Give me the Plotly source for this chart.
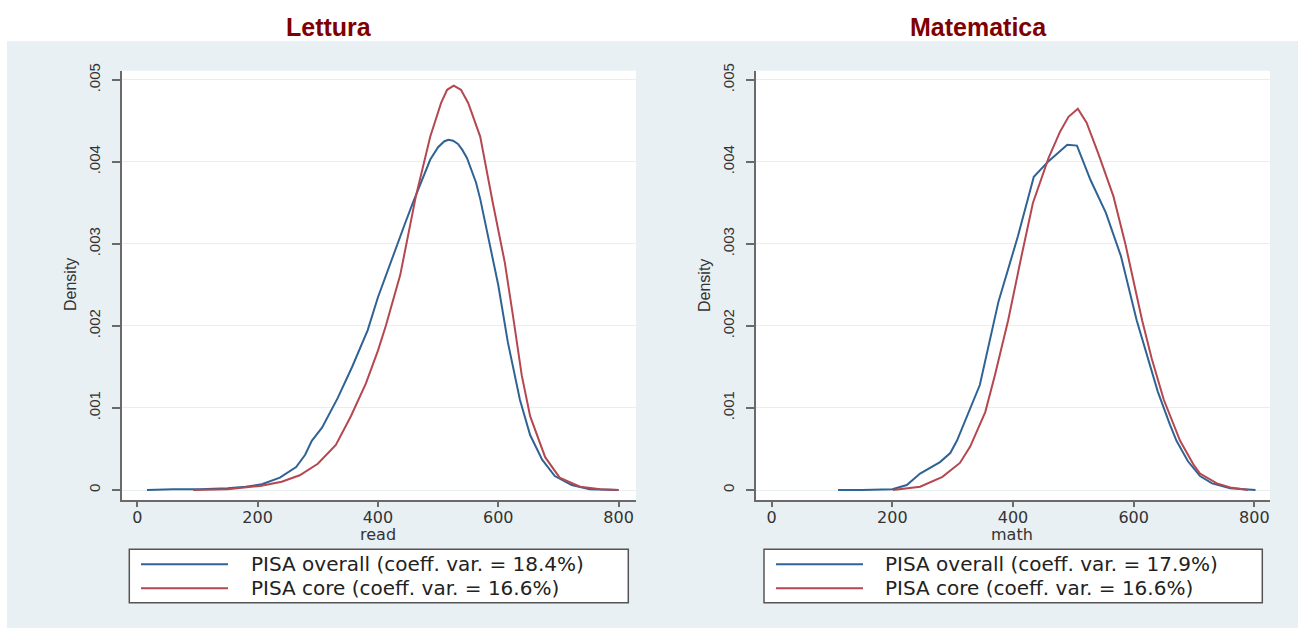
import plotly.graph_objects as go

# ---------------- data ----------------
read_overall_x = [16, 60, 104, 150, 180, 207, 237, 264, 279, 290, 307, 333, 357, 383, 400, 417, 433, 445, 458, 470, 487, 500, 510, 517, 525, 533, 540, 548, 563, 570, 583, 594, 600, 616, 636, 653, 673, 694, 722, 752, 800]
read_overall_y = [0, 0.00001, 0.00001, 0.00002, 0.00004, 0.00007, 0.00015, 0.00028, 0.00043, 0.0006, 0.00076, 0.00112, 0.0015, 0.00195, 0.00235, 0.0027, 0.00302, 0.00325, 0.0035, 0.00372, 0.00403, 0.00418, 0.00425, 0.00427, 0.00426, 0.00422, 0.00415, 0.00405, 0.00375, 0.00355, 0.00308, 0.00272, 0.0025, 0.0018, 0.0011, 0.00067, 0.00037, 0.00017, 0.00006, 0.00001, 0]

read_core_x = [93, 150, 204, 240, 270, 300, 330, 355, 380, 400, 413, 437, 463, 475, 487, 505, 515, 526, 538, 550, 570, 591, 611, 625, 639, 653, 678, 702, 736, 770, 800]
read_core_y = [0, 0.00001, 0.00005, 0.0001, 0.00018, 0.00032, 0.00055, 0.0009, 0.0013, 0.0017, 0.002, 0.00262, 0.00358, 0.00394, 0.00431, 0.00472, 0.00488, 0.00493, 0.00488, 0.00472, 0.00431, 0.0035, 0.00277, 0.0021, 0.0014, 0.0009, 0.0004, 0.00015, 0.00004, 0.00001, 0]

math_overall_x = [110, 150, 200, 224, 246, 279, 296, 307, 345, 370, 376, 408, 434.5, 459, 490, 506, 528.5, 554, 579, 605, 620, 640, 660, 671, 690, 710, 730, 760, 802]
math_overall_y = [0, 0, 0.00001, 0.00006, 0.0002, 0.00034, 0.00045, 0.0006, 0.00128, 0.00207, 0.0023, 0.00309, 0.00382, 0.00401, 0.00421, 0.0042, 0.00378, 0.00338, 0.00285, 0.00207, 0.0017, 0.0012, 0.0008, 0.0006, 0.00035, 0.00017, 0.00008, 0.00002, 0]

math_core_x = [201, 246, 283, 312, 329, 354, 370, 392, 414, 433, 459, 478, 492, 507.5, 522, 541, 566.5, 586, 614, 630, 650, 677, 700, 710, 738, 760, 790]
math_core_y = [0, 0.00004, 0.00016, 0.00033, 0.00053, 0.00095, 0.0014, 0.00207, 0.00285, 0.0035, 0.00405, 0.00437, 0.00455, 0.00465, 0.00448, 0.00411, 0.00358, 0.00301, 0.00207, 0.0016, 0.0011, 0.0006, 0.0003, 0.0002, 0.00008, 0.00003, 0]

titles = ["Lettura", "Matematica"]
x_titles = ["read", "math"]
y_title = "Density"
x_tickvals = [0, 200, 400, 600, 800]
y_tickvals = [0, 0.001, 0.002, 0.003, 0.004, 0.005]
y_ticktext = ["0", ".001", ".002", ".003", ".004", ".005"]
legend_left = ["PISA overall (coeff. var. = 18.4%)", "PISA core (coeff. var. = 16.6%)"]
legend_right = ["PISA overall (coeff. var. = 17.9%)", "PISA core (coeff. var. = 16.6%)"]

# ---------------- styling ----------------
W, H = 1305, 628
BLUE = "#2F6394"
RED = "#B4474F"
PANEL = "#E8F0F3"
AXIS = "#6A6A6A"
GRID = "#E7EFF1"
TITLE_COLOR = "#7F0000"


def px(x):
    return x / W


def py(y):
    return 1 - y / H


fig = go.Figure()
fig.add_trace(go.Scatter(x=read_overall_x, y=read_overall_y, mode="lines",
                         line=dict(color=BLUE, width=2), xaxis="x", yaxis="y", showlegend=False))
fig.add_trace(go.Scatter(x=read_core_x, y=read_core_y, mode="lines",
                         line=dict(color=RED, width=2), xaxis="x", yaxis="y", showlegend=False))
fig.add_trace(go.Scatter(x=math_overall_x, y=math_overall_y, mode="lines",
                         line=dict(color=BLUE, width=2), xaxis="x2", yaxis="y2", showlegend=False))
fig.add_trace(go.Scatter(x=math_core_x, y=math_core_y, mode="lines",
                         line=dict(color=RED, width=2), xaxis="x2", yaxis="y2", showlegend=False))

xfont = dict(family="DejaVu Sans", size=16, color="#333333")
yfont = dict(family="Liberation Sans", size=15, color="#333333")


def xaxis_cfg(l, r, rng, anchor):
    return dict(domain=[px(l), px(r)], range=rng, anchor=anchor, showline=True, linecolor=AXIS,
                linewidth=2, ticks="outside", ticklen=5, tickwidth=2, tickcolor=AXIS,
                tickvals=x_tickvals, tickfont=xfont, ticklabelstandoff=-3, showgrid=False,
                zeroline=False, fixedrange=True, automargin=False)


def yaxis_cfg(anchor):
    return dict(domain=[py(500), py(70.7)], range=[-0.000122, 0.005113], anchor=anchor, showline=True,
                linecolor=AXIS, linewidth=2, ticks="outside", ticklen=8, tickwidth=2, tickcolor=AXIS,
                tickvals=y_tickvals, ticktext=y_ticktext, tickangle=-90, tickfont=yfont,
                ticklabelstandoff=6, showgrid=True, gridcolor=GRID, gridwidth=1, zeroline=False,
                fixedrange=True, automargin=False)


fig.update_layout(
    width=W, height=H, margin=dict(l=0, r=0, t=0, b=0, pad=0, autoexpand=False),
    paper_bgcolor=PANEL, plot_bgcolor="white",
    xaxis=xaxis_cfg(121.7, 636, [-26, 829], "y"),
    yaxis=yaxis_cfg("x"),
    xaxis2=xaxis_cfg(755.7, 1270, [-26.5, 826], "y2"),
    yaxis2=yaxis_cfg("x2"),
)

shapes = [
    # white page around the grey panel
    dict(type="rect", xref="paper", yref="paper", x0=0, x1=1, y0=py(41), y1=1,
         fillcolor="white", line=dict(width=0), layer="below"),
    dict(type="rect", xref="paper", yref="paper", x0=0, x1=px(7), y0=0, y1=1,
         fillcolor="white", line=dict(width=0), layer="below"),
    dict(type="rect", xref="paper", yref="paper", x0=px(1298), x1=1, y0=0, y1=1,
         fillcolor="white", line=dict(width=0), layer="below"),
]
annotations = []

panels = [
    dict(cx=329, title=titles[0], xt=x_titles[0], xt_cx=378, yt_cx=70, box=(129.3, 628.3),
         sample=(141, 228), text_x=249, labels=legend_left),
    dict(cx=978, title=titles[1], xt=x_titles[1], xt_cx=1012, yt_cx=704, box=(764, 1262.3),
         sample=(776, 863), text_x=883, labels=legend_right),
]
colors = [BLUE, RED]
rows = [564.3, 588.3]
for p in panels:
    annotations.append(dict(text=p["title"], x=px(p["cx"]), y=py(27), xref="paper", yref="paper",
                            showarrow=False, xanchor="center", yanchor="middle",
                            font=dict(family="Liberation Sans", size=25, color=TITLE_COLOR, weight="bold")))
    annotations.append(dict(text=p["xt"], x=px(p["xt_cx"]), y=py(534), xref="paper", yref="paper",
                            showarrow=False, xanchor="center", yanchor="middle", font=xfont))
    annotations.append(dict(text=y_title, x=px(p["yt_cx"]), y=py(285), xref="paper", yref="paper",
                            showarrow=False, xanchor="center", yanchor="middle", textangle=-90,
                            font=dict(family="Liberation Sans", size=16, color="#333333")))
    bl, br = p["box"]
    shapes.append(dict(type="rect", xref="paper", yref="paper", x0=px(bl), x1=px(br),
                       y0=py(602.7), y1=py(549.3), fillcolor="white",
                       line=dict(color="#555555", width=1.5)))
    for i, lab in enumerate(p["labels"]):
        shapes.append(dict(type="line", xref="paper", yref="paper", x0=px(p["sample"][0]),
                           x1=px(p["sample"][1]), y0=py(rows[i]), y1=py(rows[i]),
                           line=dict(color=colors[i], width=2)))
        annotations.append(dict(text=lab, x=px(p["text_x"]), y=py(rows[i]), xref="paper", yref="paper",
                                showarrow=False, xanchor="left", yanchor="middle",
                                font=dict(family="DejaVu Sans", size=20, color="#222222")))

fig.update_layout(shapes=shapes, annotations=annotations)

fig.write_html("out.html", config={"displayModeBar": False},
               post_script="document.body.style.margin='0';document.body.style.overflow='hidden';")
